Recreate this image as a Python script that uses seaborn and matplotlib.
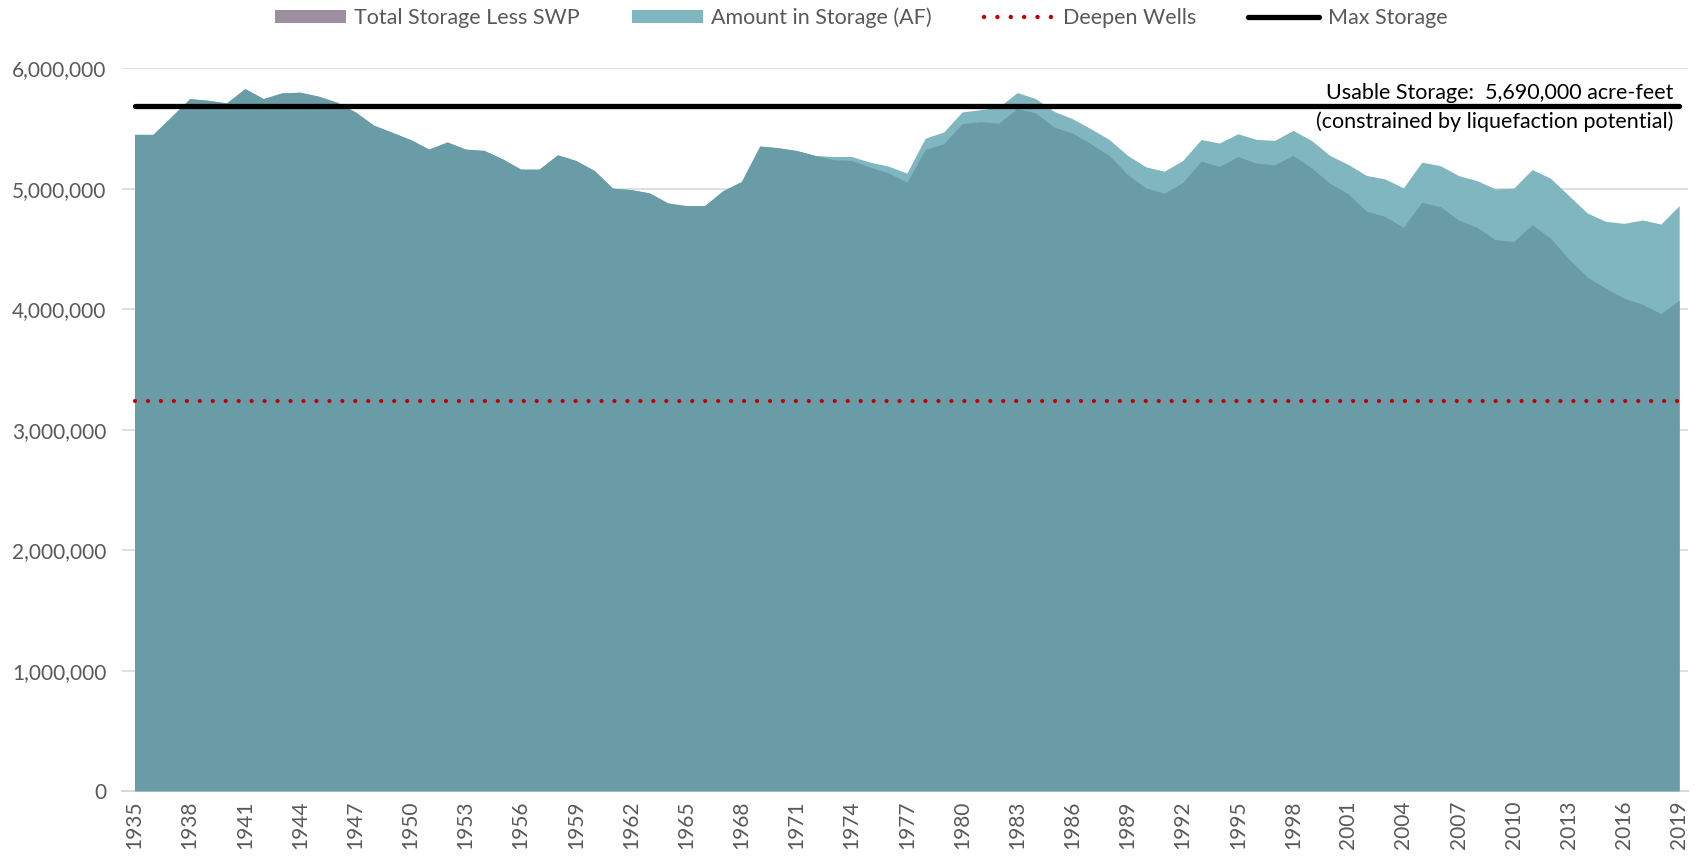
import numpy as np
import pandas as pd
import seaborn as sns
import matplotlib.pyplot as plt
from matplotlib.patches import Patch
from matplotlib.lines import Line2D
from matplotlib.ticker import FuncFormatter

# storage values in thousands of acre-feet
years = list(range(1935, 2020))

total_less_swp = [
    5453, 5453, 5600, 5750, 5736, 5714, 5833, 5750, 5797, 5803,
    5770, 5720, 5640, 5530, 5470, 5410, 5330, 5390, 5330, 5320,
    5250, 5164, 5164, 5283, 5236, 5153, 5006, 4994, 4967, 4883,
    4861, 4861, 4986, 5061, 5356, 5342, 5319, 5278, 5242, 5236,
    5181, 5133, 5056, 5328, 5375, 5542, 5558, 5547, 5667, 5631,
    5514, 5464, 5375, 5278, 5119, 5008, 4964, 5053, 5230, 5186,
    5269, 5214, 5200, 5278, 5175, 5047, 4958, 4814, 4772, 4681,
    4889, 4853, 4742, 4681, 4578, 4564, 4703, 4592, 4417, 4269,
    4175, 4092, 4042, 3964, 4075,
]

amount_in_storage = [
    5453, 5453, 5600, 5750, 5736, 5714, 5833, 5750, 5797, 5803,
    5770, 5720, 5640, 5530, 5470, 5410, 5330, 5390, 5330, 5320,
    5250, 5164, 5164, 5283, 5236, 5153, 5006, 4994, 4967, 4883,
    4861, 4861, 4986, 5061, 5356, 5342, 5319, 5278, 5269, 5269,
    5222, 5189, 5131, 5422, 5472, 5639, 5658, 5680, 5800, 5750,
    5644, 5583, 5500, 5411, 5278, 5183, 5147, 5236, 5410, 5381,
    5458, 5411, 5403, 5486, 5403, 5278, 5203, 5111, 5083, 5008,
    5222, 5194, 5111, 5069, 5000, 5006, 5161, 5089, 4944, 4800,
    4731, 4714, 4742, 4708, 4861,
]

max_storage = 5690000
deepen_wells = 3240000
tick_years = list(range(1935, 2020, 3))
y_ticks = [0, 1000000, 2000000, 3000000, 4000000, 5000000, 6000000]

df = pd.DataFrame({
    "year": years,
    "total_less_swp": np.array(total_less_swp) * 1000,
    "amount": np.array(amount_in_storage) * 1000,
})
df["max_storage"] = max_storage
df["deepen_wells"] = deepen_wells

sns.set_style("white")
plt.rcParams["font.family"] = ["Lato", "DejaVu Sans"]

c_light = "#80b6bf"
c_dark = "#6a9ca8"
c_mauve = "#9d8ea0"
c_text = "#595959"

fig = plt.figure(figsize=(17.02, 8.56), dpi=100)
ax = fig.add_axes([0.0715, 0.0759, 0.9205, 0.8441])

ax.fill_between(df["year"], 0, df["amount"], color=c_light, linewidth=0, zorder=2)
ax.fill_between(df["year"], 0, df["total_less_swp"], color=c_dark, linewidth=0, zorder=3)

sns.lineplot(data=df, x="year", y="deepen_wells", ax=ax, color="#c00000",
             linewidth=3.0, linestyle=(0, (0.01, 3.1)), dash_capstyle="round", zorder=4)
sns.lineplot(data=df, x="year", y="max_storage", ax=ax, color="black",
             linewidth=3.8, solid_capstyle="round", zorder=5)

ax.annotate("Usable Storage:  5,690,000 acre-feet", xy=(2018.7, max_storage),
            xytext=(0, 2), textcoords="offset points", ha="right", va="bottom",
            fontsize=15.5, color="black", zorder=6)
ax.annotate("(constrained by liquefaction potential)", xy=(2018.7, max_storage),
            xytext=(0, -4), textcoords="offset points", ha="right", va="top",
            fontsize=15.5, color="black", zorder=6)

ax.set_xlim(1934.3, 2019.5)
ax.set_ylim(0, 6000000)
ax.set_yticks(y_ticks)
ax.yaxis.set_major_formatter(FuncFormatter(lambda v, p: f"{int(v):,}"))
ax.set_xticks(tick_years)
ax.set_xticklabels([str(y) for y in tick_years], rotation=90)
ax.tick_params(axis="both", length=0, labelsize=15, colors=c_text)
ax.tick_params(axis="y", pad=11)
ax.tick_params(axis="x", pad=7)
ax.set_xlabel("")
ax.set_ylabel("")
ax.grid(axis="y", color="#d9d9d9", linewidth=1.2, zorder=0)
ax.set_axisbelow(True)
for s in ["left", "right", "top"]:
    ax.spines[s].set_visible(False)
ax.spines["bottom"].set_color("#d9d9d9")
ax.spines["bottom"].set_linewidth(1.5)

handles = [
    Patch(facecolor=c_mauve, edgecolor="none"),
    Patch(facecolor=c_light, edgecolor="none"),
    Line2D([], [], color="#c00000", linewidth=3.2, linestyle=(0, (0.01, 3.0)),
           dash_capstyle="round"),
    Line2D([], [], color="black", linewidth=3.8, solid_capstyle="round"),
]
labels = ["Total Storage Less SWP", "Amount in Storage (AF)", "Deepen Wells", "Max Storage"]
leg = fig.legend(handles, labels, loc="center", bbox_to_anchor=(0.506, 0.979), ncol=4,
                 frameon=False, fontsize=15.5, handlelength=3.3, handleheight=0.55,
                 handletextpad=0.4, columnspacing=2.4)
for t in leg.get_texts():
    t.set_color(c_text)

fig.savefig("out.png", dpi=100)
